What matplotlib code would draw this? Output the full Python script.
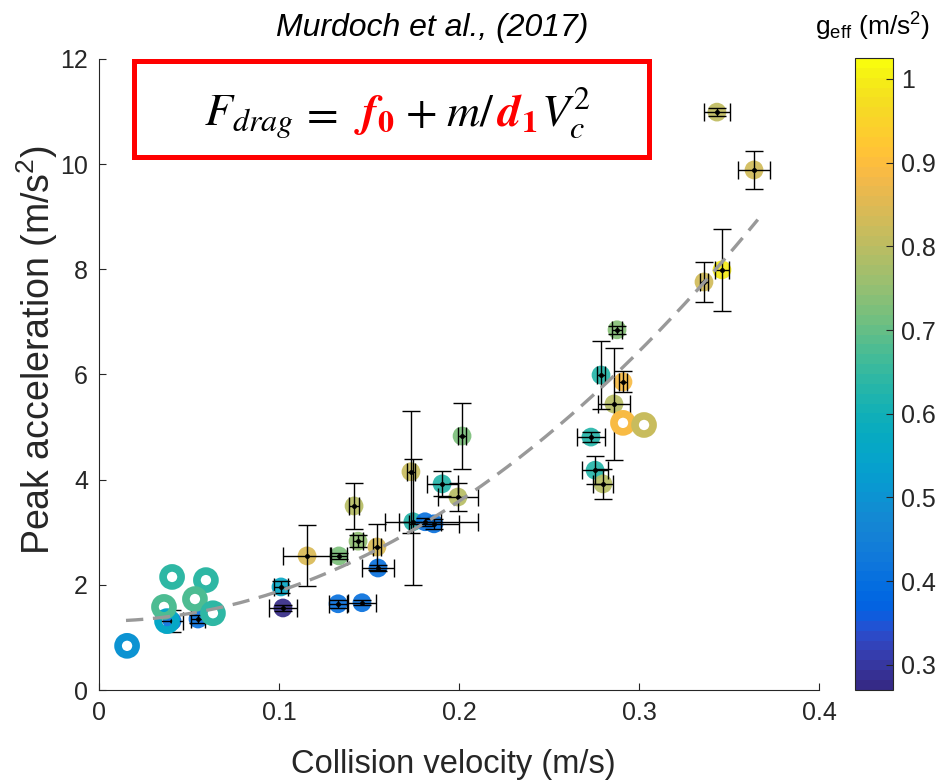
import numpy as np
import matplotlib
matplotlib.use("Agg")
import matplotlib.pyplot as plt
from matplotlib.colors import ListedColormap, Normalize
from matplotlib.patches import Rectangle

plt.rcParams['font.family'] = ['Liberation Sans', 'DejaVu Sans']
plt.rcParams['mathtext.fontset'] = 'custom'
plt.rcParams['mathtext.rm'] = 'Liberation Sans'
plt.rcParams['mathtext.it'] = 'Liberation Sans:italic'
plt.rcParams['mathtext.bf'] = 'Liberation Sans:bold'

# ---------------- data ----------------
# filled points (with error bars)
pt_v = [0.0406, 0.0550, 0.1011, 0.1022, 0.1156, 0.1333, 0.1328, 0.1461, 0.1417, 0.1439,
        0.1544, 0.1550, 0.1733, 0.1744, 0.1811, 0.1861, 0.1906, 0.1994, 0.2017, 0.2733,
        0.2756, 0.2800, 0.2789, 0.2911, 0.2861, 0.2878, 0.3361, 0.3461, 0.3433, 0.3639]
pt_a = [1.31, 1.35, 1.96, 1.56, 2.55, 2.55, 1.64, 1.66, 3.50, 2.83,
        2.72, 2.32, 4.15, 3.20, 3.20, 3.16, 3.92, 3.67, 4.83, 4.81,
        4.18, 3.92, 5.99, 5.86, 5.44, 6.85, 7.76, 7.99, 10.99, 9.89]
pt_g = [0.40, 0.40, 0.56, 0.28, 0.845, 0.72, 0.40, 0.40, 0.80, 0.75,
        0.845, 0.40, 0.82, 0.63, 0.40, 0.40, 0.63, 0.79, 0.72, 0.63,
        0.63, 0.79, 0.63, 0.89, 0.80, 0.74, 0.83, 1.00, 0.81, 0.83]
pt_v_lo = [0.006, 0.004, 0.004, 0.008, 0.0133, 0.0047, 0.0048, 0.008, 0.003, 0.003,
           0.002, 0.009, 0.002, 0.0155, 0.0144, 0.0139, 0.0086, 0.011, 0.002, 0.0076,
           0.007, 0.0053, 0.002, 0.002, 0.009, 0.003, 0.002, 0.004, 0.0072, 0.009]
pt_v_hi = [0.006, 0.004, 0.004, 0.008, 0.0133, 0.0047, 0.0048, 0.008, 0.003, 0.003,
           0.002, 0.009, 0.002, 0.0155, 0.0294, 0.0139, 0.0086, 0.011, 0.002, 0.0076,
           0.007, 0.0053, 0.002, 0.002, 0.009, 0.003, 0.002, 0.004, 0.0072, 0.009]
pt_a_lo = [0.21, 0.08, 0.12, 0.05, 0.58, 0.05, 0.08, 0.05, 0.43, 0.12,
           0.44, 0.05, 1.16, 1.20, 0.08, 0.10, 0.24, 0.27, 0.62, 0.10,
           0.27, 0.29, 0.64, 0.20, 1.07, 0.08, 0.38, 0.78, 0.08, 0.36]
pt_a_hi = pt_a_lo

# open rings (no error bars)
ring_v = [0.0156, 0.0378, 0.0406, 0.0594, 0.0361, 0.0533, 0.0633, 0.2911, 0.3028]
ring_a = [0.84, 1.31, 2.15, 2.09, 1.58, 1.73, 1.46, 5.08, 5.04]
ring_g = [0.50, 0.56, 0.64, 0.64, 0.68, 0.68, 0.64, 0.89, 0.82]

# fitted model  a = f0 + k * v^2
fit_f0 = 1.31
fit_k = 57.0
fit_vrange = (0.015, 0.366)

x_ticks = [0, 0.1, 0.2, 0.3, 0.4]
x_ticklabels = ['0', '0.1', '0.2', '0.3', '0.4']
y_ticks = [0, 2, 4, 6, 8, 10, 12]
cb_ticks = [0.3, 0.4, 0.5, 0.6, 0.7, 0.8, 0.9, 1.0]
cb_ticklabels = ['0.3', '0.4', '0.5', '0.6', '0.7', '0.8', '0.9', '1']
g_lim = (0.27, 1.025)

# ---------------- parula colormap ----------------
_parula = [
    [0.2081, 0.1663, 0.5292], [0.2116, 0.1898, 0.5777], [0.2123, 0.2138, 0.6270], [0.2081, 0.2386, 0.6771],
    [0.1959, 0.2645, 0.7279], [0.1707, 0.2919, 0.7792], [0.1253, 0.3242, 0.8303], [0.0591, 0.3598, 0.8683],
    [0.0117, 0.3875, 0.8820], [0.0060, 0.4086, 0.8828], [0.0165, 0.4266, 0.8786], [0.0329, 0.4430, 0.8720],
    [0.0498, 0.4586, 0.8641], [0.0629, 0.4737, 0.8554], [0.0723, 0.4887, 0.8467], [0.0779, 0.5040, 0.8384],
    [0.0793, 0.5200, 0.8312], [0.0749, 0.5375, 0.8263], [0.0641, 0.5570, 0.8240], [0.0488, 0.5772, 0.8228],
    [0.0343, 0.5966, 0.8199], [0.0265, 0.6137, 0.8135], [0.0239, 0.6287, 0.8038], [0.0231, 0.6418, 0.7913],
    [0.0228, 0.6535, 0.7768], [0.0267, 0.6642, 0.7607], [0.0384, 0.6743, 0.7436], [0.0590, 0.6838, 0.7254],
    [0.0843, 0.6928, 0.7062], [0.1133, 0.7015, 0.6859], [0.1453, 0.7098, 0.6646], [0.1801, 0.7177, 0.6424],
    [0.2178, 0.7250, 0.6193], [0.2586, 0.7317, 0.5954], [0.3022, 0.7376, 0.5712], [0.3482, 0.7424, 0.5473],
    [0.3953, 0.7459, 0.5244], [0.4420, 0.7481, 0.5033], [0.4871, 0.7491, 0.4840], [0.5300, 0.7491, 0.4661],
    [0.5709, 0.7485, 0.4494], [0.6099, 0.7473, 0.4337], [0.6473, 0.7456, 0.4188], [0.6834, 0.7435, 0.4044],
    [0.7184, 0.7411, 0.3905], [0.7525, 0.7384, 0.3768], [0.7858, 0.7356, 0.3633], [0.8185, 0.7327, 0.3498],
    [0.8507, 0.7299, 0.3360], [0.8824, 0.7274, 0.3217], [0.9139, 0.7258, 0.3063], [0.9450, 0.7261, 0.2886],
    [0.9739, 0.7314, 0.2666], [0.9938, 0.7455, 0.2403], [0.9990, 0.7653, 0.2164], [0.9955, 0.7861, 0.1967],
    [0.9880, 0.8066, 0.1794], [0.9789, 0.8271, 0.1633], [0.9697, 0.8481, 0.1475], [0.9626, 0.8705, 0.1309],
    [0.9589, 0.8949, 0.1132], [0.9598, 0.9218, 0.0948], [0.9661, 0.9514, 0.0755], [0.9763, 0.9831, 0.0538]]
parula = ListedColormap(_parula, name='parula')
norm = Normalize(*g_lim)

# ---------------- figure ----------------
W, H = 943, 781
fig = plt.figure(figsize=(W / 100, H / 100), dpi=100)
ax = fig.add_axes([99 / W, 1 - 690 / H, 720 / W, 631 / H])

sc = ax.scatter(pt_v, pt_a, c=pt_g, cmap=parula, norm=norm, s=13.5 ** 2,
                edgecolors='none', alpha=0.92, zorder=2)
ax.errorbar(pt_v, pt_a, xerr=[pt_v_lo, pt_v_hi], yerr=[pt_a_lo, pt_a_hi], fmt='none',
            ecolor='black', elinewidth=1.0, capsize=6.5, capthick=1.0, zorder=3)
ax.plot(pt_v, pt_a, 'o', color='black', ms=2.5, zorder=4)

ax.scatter(ring_v, ring_a, s=13 ** 2, facecolors='none',
           edgecolors=parula(norm(np.array(ring_g))), linewidths=5.5, zorder=5)

fit_v = np.linspace(fit_vrange[0], fit_vrange[1], 200)
ax.plot(fit_v, fit_f0 + fit_k * fit_v ** 2, color='#999999', lw=2.4,
        dashes=(5.2, 2.9), zorder=6)

ax.set_xlim(0, 0.4)
ax.set_ylim(0, 12)
ax.set_xticks(x_ticks)
ax.set_xticklabels(x_ticklabels)
ax.set_yticks(y_ticks)
for s in ['top', 'right']:
    ax.spines[s].set_visible(False)
for s in ['left', 'bottom']:
    ax.spines[s].set_color('#262626')
    ax.spines[s].set_linewidth(0.8)
ax.tick_params(direction='in', length=5, width=0.8, colors='#262626',
               labelsize=18, labelcolor='#262626', pad=8)

fig.text(453 / W, 1 - 773 / H, 'Collision velocity (m/s)', fontsize=23.5, ha='center',
         va='baseline', color='#262626')
fig.text(37 / W, 1 - 350 / H, 'Peak acceleration (m/s$^2$)', fontsize=27, ha='center',
         va='center', rotation=90, color='#262626')
fig.text(432 / W, 1 - 36 / H, 'Murdoch et al., (2017)', fontsize=23, style='italic',
         ha='center', va='baseline', color='black')

# formula box
ax.add_patch(Rectangle((35 / 720, (690 - 157) / 631), 515 / 720, 96 / 631,
                       transform=ax.transAxes, facecolor='white', edgecolor='#ff0000',
                       lw=3.6, clip_on=False, zorder=7))

pieces = [(r'$F_{drag}$', 'black', 0),
          (r'$=$', 'black', 6),
          (r'$\mathbfit{f}_{\mathbf{0}}$', '#ff0000', 16),
          (r'$+$', 'black', 10),
          (r'$m/$', 'black', 10),
          (r'$\mathbfit{d}_{\mathbf{1}}$', '#ff0000', 2),
          (r'$V_c^2$', 'black', 4)]
fs_formula = 33
fig.canvas.draw()
rend = fig.canvas.get_renderer()
widths = []
for txt, col, gap in pieces:
    t = fig.text(0, 0, txt, fontsize=fs_formula, math_fontfamily='stix')
    widths.append(t.get_window_extent(rend).width)
    t.remove()
total = sum(widths) + sum(p[2] for p in pieces)
x0 = 398 - total / 2
base = 1 - 126 / H
for (txt, col, gap), w in zip(pieces, widths):
    x0 += gap
    fig.text(x0 / W, base, txt, fontsize=fs_formula, math_fontfamily='stix', color=col,
             ha='left', va='baseline', zorder=8)
    x0 += w

# colorbar
cax = fig.add_axes([855 / W, 1 - 690 / H, 38 / W, 632 / H])
cb = fig.colorbar(plt.cm.ScalarMappable(norm=norm, cmap=parula), cax=cax)
cb.set_ticks(cb_ticks)
cb.set_ticklabels(cb_ticklabels)
cax.tick_params(direction='in', length=5, width=0.8, labelsize=18, colors='#262626', pad=6)
cb.outline.set_linewidth(0.8)
cb.outline.set_edgecolor('#262626')
fig.text(873 / W, 1 - 36 / H, r'$\mathrm{g}_{\mathrm{eff}}$ (m/s$^2$)', fontsize=19,
         ha='center', va='baseline', color='black')

fig.savefig('out.png', dpi=100)
